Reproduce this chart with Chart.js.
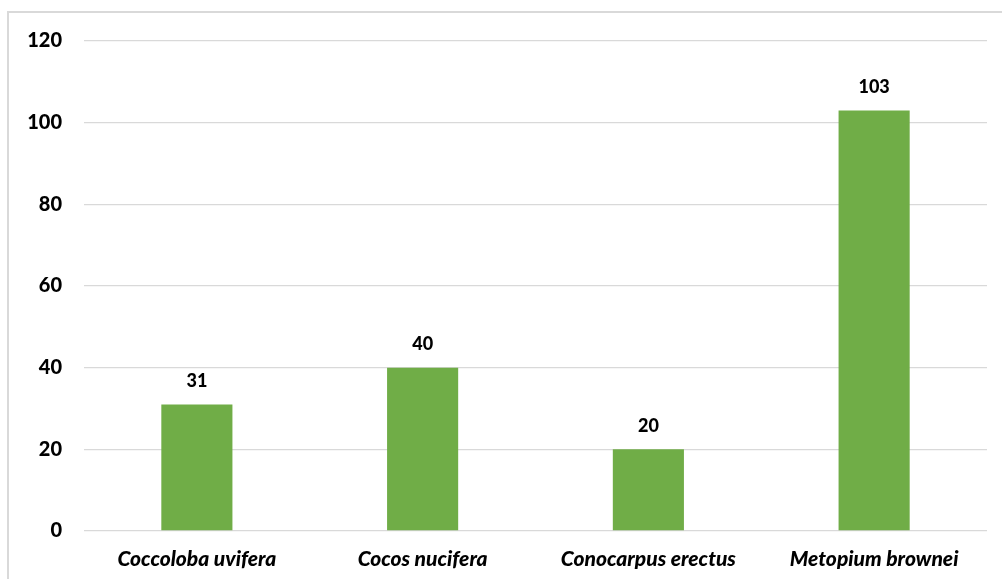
<!DOCTYPE html>
<html>
<head>
<meta charset="utf-8">
<script src="https://cdn.jsdelivr.net/npm/chart.js@4"></script>
<style>
  html, body { margin: 0; padding: 0; background: #ffffff; }
  #wrap { position: absolute; left: 0; top: 0; width: 1002px; height: 579px; }
</style>
</head>
<body>
<div id="wrap"><canvas id="c" width="1002" height="579"></canvas></div>
<script>
// Species and counts
const categories = ['Coccoloba uvifera', 'Cocos nucifera', 'Conocarpus erectus', 'Metopium brownei'];
const counts = [31, 40, 20, 103];
const yTicks = [0, 20, 40, 60, 80, 100, 120];

const FONT = 'Lato, "Open Sans", sans-serif';
const WEIGHT = 900;

// Light frame around the whole chart (runs off the right and bottom edges)
const framePlugin = {
  id: 'frame',
  beforeDraw(chart) {
    const ctx = chart.ctx;
    ctx.save();
    ctx.strokeStyle = '#d9d9d9';
    ctx.lineWidth = 2;
    ctx.strokeRect(8, 12, 1100, 700);
    ctx.restore();
  }
};

// Value labels above each bar
const valueLabels = {
  id: 'valueLabels',
  afterDatasetsDraw(chart) {
    const ctx = chart.ctx;
    const meta = chart.getDatasetMeta(0);
    const ys = chart.scales.y;
    ctx.save();
    ctx.font = WEIGHT + ' 18px ' + FONT;
    ctx.fillStyle = '#000000';
    ctx.textAlign = 'center';
    ctx.textBaseline = 'middle';
    meta.data.forEach((bar, i) => {
      const v = chart.data.datasets[0].data[i];
      ctx.fillText(String(v), bar.x, ys.getPixelForValue(v) - 23);
    });
    ctx.restore();
  }
};

new Chart(document.getElementById('c'), {
  type: 'bar',
  data: {
    labels: categories,
    datasets: [{
      data: counts,
      backgroundColor: '#70ad47',
      borderWidth: 0,
      categoryPercentage: 1,
      barPercentage: 0.315
    }]
  },
  options: {
    responsive: false,
    animation: false,
    devicePixelRatio: 1,
    layout: { padding: { left: 0, right: 15, top: 41, bottom: 0 } },
    plugins: { legend: { display: false }, tooltip: { enabled: false } },
    scales: {
      x: {
        grid: { display: false, drawTicks: false },
        border: { display: false },
        ticks: {
          padding: 16,
          color: '#000000',
          font: { family: FONT, size: 21, weight: WEIGHT, style: 'italic' },
          maxRotation: 0
        },
        afterFit(scale) { scale.height = 48; }
      },
      y: {
        min: 0,
        max: 120,
        afterBuildTicks(scale) { scale.ticks = yTicks.map(v => ({ value: v })); },
        grid: { color: '#d9d9d9', lineWidth: 1.3, drawTicks: false },
        border: { display: false },
        ticks: {
          padding: 22,
          color: '#000000',
          font: { family: FONT, size: 20, weight: WEIGHT }
        },
        afterFit(scale) { scale.width = 84; }
      }
    }
  },
  plugins: [framePlugin, valueLabels]
});
</script>
</body>
</html>
